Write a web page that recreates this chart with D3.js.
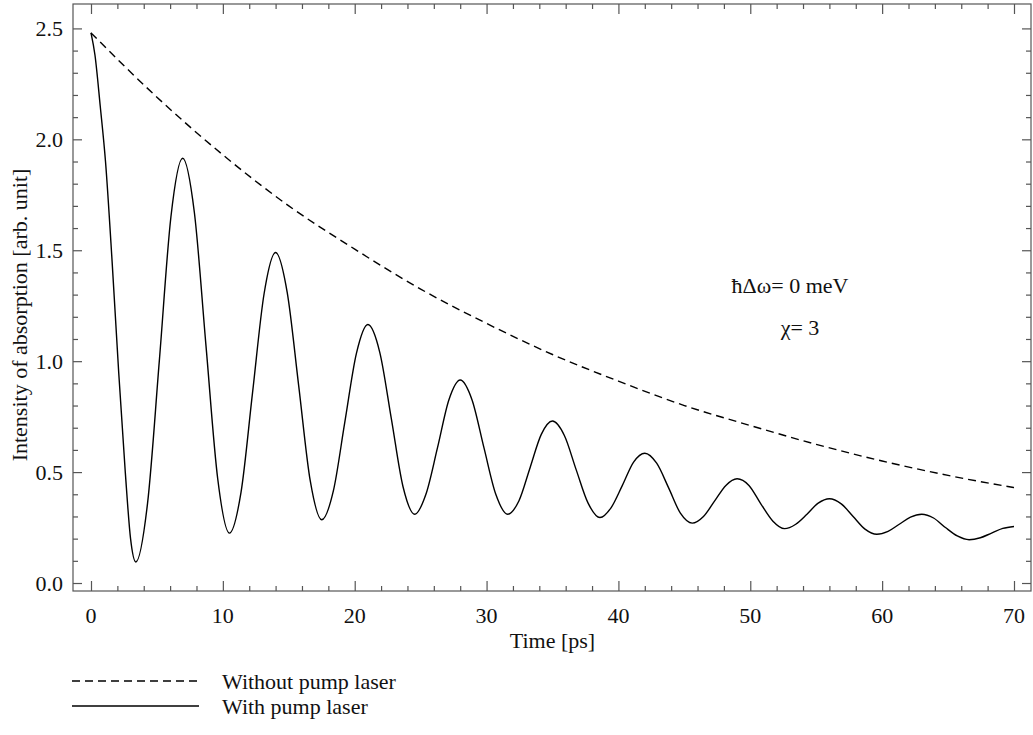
<!DOCTYPE html>
<html>
<head>
<meta charset="utf-8">
<script src="https://cdn.jsdelivr.net/npm/d3@7"></script>
<style>
body { margin: 0; background: #fff; }
text { font-family: "Liberation Serif", "DejaVu Serif", serif; fill: #111; }
</style>
</head>
<body>
<div id="graphic"></div>
<script>

// decay without pump laser
var noPumpTime = [0, 5, 10, 15, 20, 25, 30, 35, 40, 45, 50, 55, 60, 65, 70];
var noPumpValue = [2.48, 2.19, 1.93, 1.70, 1.505, 1.325, 1.17, 1.03, 0.91, 0.80, 0.71, 0.625, 0.55, 0.485, 0.43];

// oscillating signal with pump laser, every quarter of a half-cycle
var pumpTime = [0, 0.3, 0.7, 1.1, 1.6, 2.1, 2.6, 3.0, 3.4,
	4.29, 5.18, 6.06, 6.95, 7.84, 8.72, 9.61, 10.5,
	11.38, 12.25, 13.13, 14.0, 14.88, 15.75, 16.63, 17.5,
	18.38, 19.25, 20.13, 21.0, 21.9, 22.78, 23.66, 24.55,
	25.4, 26.28, 27.14, 28.0, 28.9, 29.8, 30.7, 31.6,
	32.45, 33.3, 34.15, 35.0, 35.9, 36.8, 37.7, 38.6,
	39.45, 40.3, 41.15, 42.0, 42.9, 43.8, 44.7, 45.6,
	46.45, 47.3, 48.15, 49.0, 49.9, 50.8, 51.7, 52.6,
	53.45, 54.3, 55.15, 56.0, 56.9, 57.8, 58.7, 59.6,
	60.45, 61.3, 62.15, 63.0, 63.9, 64.8, 65.7, 66.6,
	67.45, 68.3, 69.15, 70.0];
var pumpValue = [2.48, 2.38, 2.15, 1.90, 1.45, 0.95, 0.50, 0.20, 0.095,
	0.36, 1.0, 1.65, 1.915, 1.67, 1.07, 0.47, 0.225,
	0.41, 0.857, 1.305, 1.49, 1.31, 0.89, 0.46, 0.285,
	0.415, 0.725, 1.035, 1.165, 1.04, 0.74, 0.435, 0.31,
	0.40, 0.61, 0.825, 0.915, 0.825, 0.61, 0.40, 0.31,
	0.37, 0.52, 0.67, 0.73, 0.665, 0.51, 0.36, 0.295,
	0.34, 0.44, 0.545, 0.585, 0.54, 0.43, 0.315, 0.27,
	0.30, 0.37, 0.44, 0.47, 0.44, 0.357, 0.28, 0.245,
	0.265, 0.31, 0.36, 0.38, 0.357, 0.30, 0.243, 0.22,
	0.233, 0.265, 0.297, 0.31, 0.293, 0.25, 0.212, 0.195,
	0.204, 0.225, 0.246, 0.255];

var xMajor = [0, 10, 20, 30, 40, 50, 60, 70];
var yMajor = [0.0, 0.5, 1.0, 1.5, 2.0, 2.5];

var legendLabels = ["Without pump laser", "With pump laser"];
var noteLabels = ["\u0127\u0394\u03c9= 0 meV", "\u03c7= 3"];

var width = 1033, height = 735;
var frame = {left: 73, right: 1031, top: 4, bottom: 591};
var fontSize = "22px";

var svg = d3.select("#graphic").append("svg")
	.attr("width", width)
	.attr("height", height);

var x = d3.scaleLinear()
	.domain([-1.365, 71.29])
	.range([frame.left, frame.right]);

var y = d3.scaleLinear()
	.domain([-0.036, 2.61])
	.range([frame.bottom, frame.top]);

var xMinor = d3.range(0, 71, 2).filter(function(d) { return d % 10 != 0; });
var yMinor = d3.range(0, 26, 1).map(function(d) { return d / 10; }).filter(function(d) { return Math.round(d * 10) % 5 != 0; });

var axisColor = "#555";

// frame
svg.append("rect")
	.attr("x", frame.left)
	.attr("y", frame.top)
	.attr("width", frame.right - frame.left)
	.attr("height", frame.bottom - frame.top)
	.attr("fill", "none")
	.attr("stroke", axisColor)
	.attr("stroke-width", 1.2);

function ticks(g, axis, scale, values, size) {
	g.call(axis(scale).tickValues(values).tickSize(size).tickFormat(""))
		.call(function(s) { s.select(".domain").remove(); })
		.selectAll("line").attr("stroke", axisColor).attr("stroke-width", 1.2);
}

// bottom / top ticks point inward
ticks(svg.append("g").attr("transform", "translate(0," + frame.bottom + ")"), d3.axisTop, x, xMajor, 10);
ticks(svg.append("g").attr("transform", "translate(0," + frame.bottom + ")"), d3.axisTop, x, xMinor, 5);
ticks(svg.append("g").attr("transform", "translate(0," + frame.top + ")"), d3.axisBottom, x, xMajor, 10);
ticks(svg.append("g").attr("transform", "translate(0," + frame.top + ")"), d3.axisBottom, x, xMinor, 5);

// left / right ticks point inward
ticks(svg.append("g").attr("transform", "translate(" + frame.left + ",0)"), d3.axisRight, y, yMajor, 9);
ticks(svg.append("g").attr("transform", "translate(" + frame.left + ",0)"), d3.axisRight, y, yMinor, 5);
ticks(svg.append("g").attr("transform", "translate(" + frame.right + ",0)"), d3.axisLeft, y, yMajor, 9);
ticks(svg.append("g").attr("transform", "translate(" + frame.right + ",0)"), d3.axisLeft, y, yMinor, 5);

// tick labels
svg.append("g").selectAll("text")
	.data(xMajor)
	.enter().append("text")
	.attr("x", function(d) { return x(d); })
	.attr("y", frame.bottom + 32)
	.attr("text-anchor", "middle")
	.style("font-size", fontSize)
	.text(function(d) { return d; });

svg.append("g").selectAll("text")
	.data(yMajor)
	.enter().append("text")
	.attr("x", frame.left - 10)
	.attr("y", function(d) { return y(d); })
	.attr("dy", "0.35em")
	.attr("text-anchor", "end")
	.style("font-size", fontSize)
	.text(function(d) { return d3.format(".1f")(d); });

// axis titles
svg.append("text")
	.attr("x", x(35))
	.attr("y", frame.bottom + 57)
	.attr("text-anchor", "middle")
	.style("font-size", fontSize)
	.text("Time [ps]");

svg.append("text")
	.attr("transform", "translate(27,315) rotate(-90)")
	.attr("text-anchor", "middle")
	.style("font-size", fontSize)
	.text("Intensity of absorption [arb. unit]");

// curves
var line = d3.line()
	.x(function(d) { return x(d[0]); })
	.y(function(d) { return y(d[1]); })
	.curve(d3.curveMonotoneX);

svg.append("path")
	.datum(d3.zip(noPumpTime, noPumpValue))
	.attr("fill", "none")
	.attr("stroke", "#000")
	.attr("stroke-width", 1.4)
	.attr("stroke-dasharray", "8,5")
	.attr("d", line);

svg.append("path")
	.datum(d3.zip(pumpTime, pumpValue))
	.attr("fill", "none")
	.attr("stroke", "#000")
	.attr("stroke-width", 1.4)
	.attr("d", line);

// notes
svg.append("text")
	.attr("x", 790)
	.attr("y", 293)
	.attr("text-anchor", "middle")
	.style("font-size", fontSize)
	.text(noteLabels[0]);

svg.append("text")
	.attr("x", 800)
	.attr("y", 335)
	.attr("text-anchor", "middle")
	.style("font-size", fontSize)
	.text(noteLabels[1]);

// legend
var legend = svg.append("g").selectAll("g")
	.data(legendLabels)
	.enter().append("g")
	.attr("transform", function(d, i) { return "translate(0," + (681 + i * 25) + ")"; });

legend.append("line")
	.attr("x1", 72)
	.attr("x2", 199)
	.attr("stroke", "#000")
	.attr("stroke-width", 1.4)
	.attr("stroke-dasharray", function(d, i) { return i == 0 ? "8,5" : null; });

legend.append("text")
	.attr("x", 222)
	.attr("dy", "0.35em")
	.style("font-size", fontSize)
	.text(function(d) { return d; });

</script>
</body>
</html>
